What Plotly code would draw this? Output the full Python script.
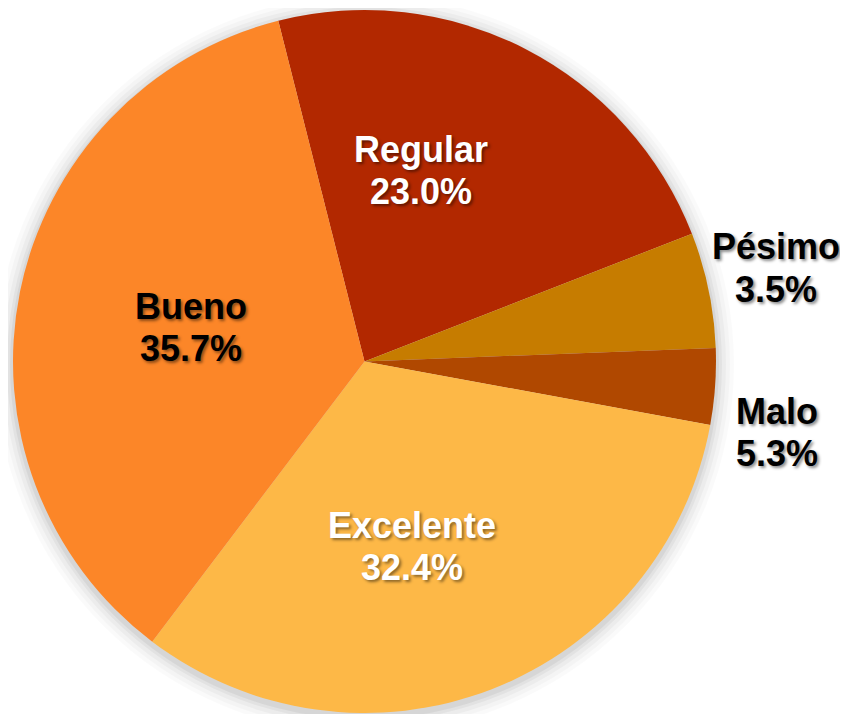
import plotly.graph_objects as go

# slices in clockwise order, starting just left of 12 o'clock
labels = ["Regular", "Pésimo", "Malo", "Excelente", "Bueno"]
values = [23.0, 5.3, 3.5, 32.4, 35.7]
shown_pct = ["23.0%", "3.5%", "5.3%", "32.4%", "35.7%"]
colors = ["#B22800", "#C67C00", "#B04800", "#FDB847", "#FC8628"]
text_colors = ["white", "black", "black", "white", "black"]

# the page body has an 8px margin, so the figure is shrunk and shifted to fit
OFF = 8
W, H = 848 - OFF, 714 - OFF
CX, CY, R = 364.5 - OFF, 361.5 - OFF, 351.5
FONT = "Liberation Sans, Arial, sans-serif"
SHADOW = "2px 2px 3px rgba(0,0,0,0.45)"
LINE_GAP = 42

# label block centres, in window pixels
label_pos = {
    "Regular": (421, 170),
    "Pésimo": (776, 268),
    "Malo": (777, 432),
    "Excelente": (412, 546),
    "Bueno": (191, 327),
}

fig = go.Figure(
    go.Pie(
        labels=labels,
        values=values,
        textinfo="none",
        marker=dict(colors=colors, line=dict(width=0)),
        sort=False,
        direction="clockwise",
        rotation=-14.2,
        hoverinfo="label+percent",
        showlegend=False,
        domain=dict(x=[(CX - R) / W, (CX + R) / W],
                    y=[1 - (CY + R) / H, 1 - (CY - R) / H]),
    )
)

# soft glow around the pie
shapes = []
for grow, alpha in [(18, 0.02), (14, 0.025), (10, 0.03), (6, 0.04), (3, 0.05)]:
    shapes.append(dict(
        type="circle", layer="below",
        xref="paper", yref="paper",
        xsizemode="pixel", ysizemode="pixel",
        xanchor=CX / W, yanchor=1 - (CY + 3) / H,
        x0=-(R + grow), x1=R + grow, y0=-(R + grow), y1=R + grow,
        fillcolor=f"rgba(0,0,0,{alpha})", line=dict(width=0),
    ))

annotations = []
for lab, pct, tc in zip(labels, shown_pct, text_colors):
    px, py = label_pos[lab]
    for line, dy in [(lab, -LINE_GAP / 2), (pct, LINE_GAP / 2)]:
        annotations.append(dict(
            text=line,
            x=(px - OFF) / W, y=1 - (py + dy - OFF) / H,
            xref="paper", yref="paper",
            xanchor="center", yanchor="middle", showarrow=False,
            font=dict(family=FONT, size=36, weight="bold", color=tc,
                      shadow=SHADOW),
        ))

fig.update_layout(
    width=W, height=H,
    margin=dict(l=0, r=0, t=0, b=0),
    paper_bgcolor="white", plot_bgcolor="white",
    shapes=shapes,
    annotations=annotations,
)

fig.write_html("out.html")
